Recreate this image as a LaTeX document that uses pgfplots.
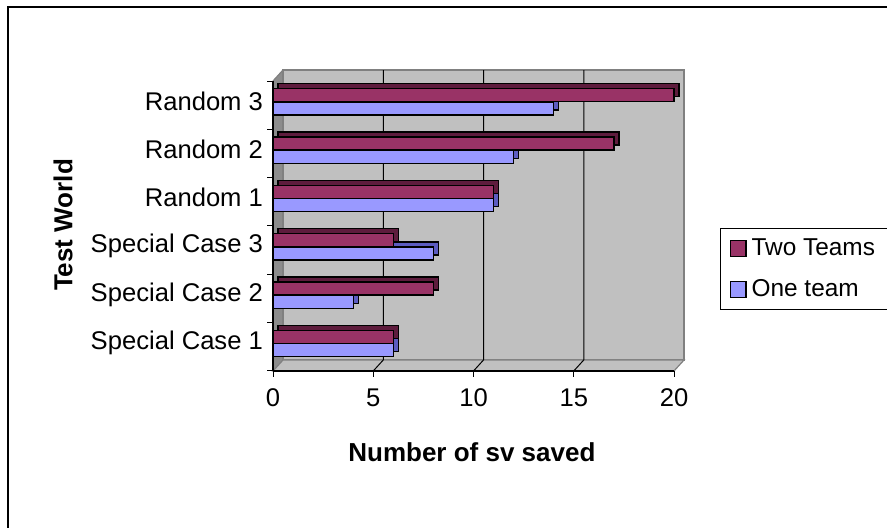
\documentclass[border=0pt]{standalone}
\usepackage{pgfplots}
\pgfplotsset{compat=1.18}
\usepackage{fontspec}
\setmainfont{Liberation Sans}
\definecolor{maroon}{HTML}{993366}
\definecolor{maroondark}{HTML}{5E1C3D}
\definecolor{lblue}{HTML}{9999FF}
\definecolor{lbluedark}{HTML}{5C5CC0}
\definecolor{wall}{HTML}{C0C0C0}
\definecolor{wallline}{HTML}{808080}
\definecolor{sidewall}{HTML}{8C8C8C}
\pgfplotsset{sqlegend/.style={legend image code/.code={\draw[##1, draw=black, line width=0.7pt] (0pt,-3.9pt) rectangle (7.8pt,3.9pt);}}}
\begin{document}
\begin{tikzpicture}
\begin{axis}[
  set layers,
  at={(136.5pt,78.5pt)}, anchor=south west,
  scale only axis, width=200.5pt, height=145pt,
  xmin=0, xmax=20, ymin=-0.5, ymax=5.5,
  clip=false,
  axis x line*=bottom, axis y line*=left,
  axis line style={-, black, line width=0.6pt},
  tick align=outside,
  xtick={0,5,10,15,20},
  ytick={0,1,2,3,4,5},
  yticklabels={Special Case 1,Special Case 2,Special Case 3,Random 1,Random 2,Random 3},
  minor ytick={-0.5,0.5,1.5,2.5,3.5,4.5,5.5},
  every major y tick/.append style={draw=none},
  yticklabel style={yshift=2pt, xshift=1.3pt},
  major tick length=2.8pt,
  minor tick length=2.8pt,
  tick style={black, line width=0.5pt},
  tick label style={font=\fontsize{12.8}{15}\selectfont},
  /pgf/number format/assume math mode=true,
  xticklabel style={yshift=-2.6pt},
  xlabel={\textbf{Number of sv saved}},
  ylabel={\textbf{Test World}},
  label style={font=\fontsize{13}{15}\selectfont},
  xlabel style={at={(axis description cs:0.496,-0.279)}, anchor=center},
  ylabel style={at={(axis description cs:-0.5237,0.5034)}, anchor=center},
  legend style={at={(1.1147,0.4931)}, anchor=north west, draw=black, line width=0.6pt, fill=white,
    font=\fontsize{12.2}{14}\selectfont, row sep=6.5pt, inner xsep=4.5pt, inner ysep=3pt,
    legend cell align=left, nodes={inner xsep=2.5pt}},
  reverse legend,
  xbar, bar width=6.5pt,
]
% walls
\begin{pgfonlayer}{axis background}
\fill[sidewall] (axis cs:0,-0.5) -- ([shift={(5pt,5.5pt)}]axis cs:0,-0.5) -- ([shift={(5pt,5.5pt)}]axis cs:0,5.5) -- (axis cs:0,5.5) -- cycle;
\filldraw[fill=wall, draw=wallline, line width=0.6pt] ([shift={(5pt,5.5pt)}]axis cs:0,-0.5) rectangle ([shift={(5pt,5.5pt)}]axis cs:20,5.5);
\filldraw[fill=wall, draw=wallline, line width=0.6pt] (axis cs:0,-0.5) -- (axis cs:20,-0.5) -- ([shift={(5pt,5.5pt)}]axis cs:20,-0.5) -- ([shift={(5pt,5.5pt)}]axis cs:0,-0.5) -- cycle;
\draw[wallline, line width=0.6pt] (axis cs:0,5.5) -- ([shift={(5pt,5.5pt)}]axis cs:0,5.5);
\draw[black, line width=0.5pt] (axis cs:5,-0.5) -- ([shift={(5pt,5.5pt)}]axis cs:5,-0.5) -- ([shift={(5pt,5.5pt)}]axis cs:5,5.5);
\draw[black, line width=0.5pt] (axis cs:10,-0.5) -- ([shift={(5pt,5.5pt)}]axis cs:10,-0.5) -- ([shift={(5pt,5.5pt)}]axis cs:10,5.5);
\draw[black, line width=0.5pt] (axis cs:15,-0.5) -- ([shift={(5pt,5.5pt)}]axis cs:15,-0.5) -- ([shift={(5pt,5.5pt)}]axis cs:15,5.5);
\end{pgfonlayer}
% One team (blue)
\addplot[forget plot, bar shift=-1.65pt, fill=lbluedark, draw=black, line width=0.7pt, xshift=2.5pt, yshift=2.5pt]
  coordinates {(6,0) (4,1) (8,2) (11,3) (12,4) (14,5)};
\addplot[sqlegend, bar shift=-1.65pt, fill=lblue, draw=black, line width=0.7pt]
  coordinates {(6,0) (4,1) (8,2) (11,3) (12,4) (14,5)};
% Two Teams (maroon)
\addplot[forget plot, bar shift=5pt, fill=maroondark, draw=black, line width=0.7pt, xshift=2.5pt, yshift=2.5pt]
  coordinates {(6,0) (8,1) (6,2) (11,3) (17,4) (20,5)};
\addplot[sqlegend, bar shift=5pt, fill=maroon, draw=black, line width=0.7pt]
  coordinates {(6,0) (8,1) (6,2) (11,3) (17,4) (20,5)};
\legend{One team\hspace{6pt}, Two Teams\hspace{6pt}}
\end{axis}
\draw[black, line width=1.1pt] (4pt,-20pt) rectangle (470pt,260.5pt);
\pgfresetboundingbox
\path[use as bounding box] (0,0) rectangle (443.5pt,264pt);
\end{tikzpicture}
\end{document}
